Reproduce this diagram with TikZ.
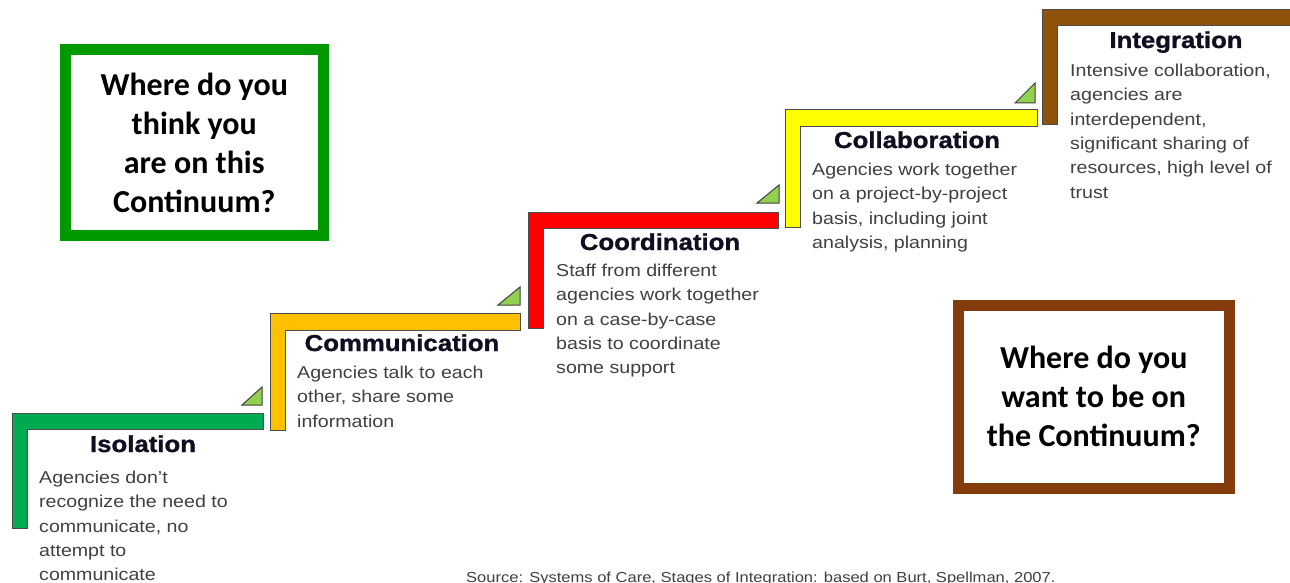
\documentclass[tikz,border=0pt]{standalone}
\usepackage{fontspec}
\setmainfont{Liberation Sans}
\newfontfamily\bodyfont[FakeStretch=1.14]{Liberation Sans}
\newfontfamily\titlefont[FakeStretch=1.12,BoldFeatures={FakeBold=1.2}]{Liberation Sans}
\newfontfamily\boxfont{Carlito}
\definecolor{stepgreen}{RGB}{0,170,80}
\definecolor{steporange}{RGB}{255,192,0}
\definecolor{stepred}{RGB}{255,0,0}
\definecolor{stepyellow}{RGB}{255,255,0}
\definecolor{stepbrown}{RGB}{142,82,10}
\definecolor{tri}{RGB}{146,208,80}
\definecolor{boxgreen}{RGB}{0,153,0}
\definecolor{boxbrown}{RGB}{132,60,12}
\definecolor{titlecol}{RGB}{15,15,35}
\definecolor{bodycol}{RGB}{64,64,64}
\tikzset{
  stepshape/.style={draw=black!70, line width=1pt},
  tristyle/.style={draw=black!75, line width=1pt, fill=tri, line join=miter},
  bodytext/.style={anchor=north west, inner sep=0pt, align=left, text=bodycol,
     font=\bodyfont\fontsize{17.2}{24.4}\selectfont},
  titletext/.style={anchor=base, inner sep=0pt, text=titlecol,
     font=\titlefont\bfseries\fontsize{23}{28}\selectfont},
  bigbox/.style={draw, line width=11pt, align=center, inner sep=0pt, text=black,
     font=\boxfont\bfseries\fontsize{32}{39}\selectfont},
}
\begin{document}
\begin{tikzpicture}[x=1pt,y=-1pt]
\useasboundingbox[fill=white] (0,0) rectangle (1290,583);

% steps
\draw[stepshape, fill=stepgreen] (12,413) -- (263,413) -- (263,429) -- (27,429) -- (27,528) -- (12,528) -- cycle;
\draw[stepshape, fill=steporange] (270,313) -- (520,313) -- (520,330) -- (285,330) -- (285,430) -- (270,430) -- cycle;
\draw[stepshape, fill=stepred] (528,212) -- (778,212) -- (778,228) -- (543,228) -- (543,328) -- (528,328) -- cycle;
\draw[stepshape, fill=stepyellow] (785,110) -- (1037,110) -- (1037,127) -- (800,127) -- (800,227) -- (785,227) -- cycle;
\draw[stepshape, fill=stepbrown] (1042,10) -- (1295,10) -- (1295,26) -- (1057,26) -- (1057,125) -- (1042,125) -- cycle;

% triangles
\draw[tristyle] (242,405) -- (262,405) -- (262,387) -- cycle;
\draw[tristyle] (498,305) -- (520,305) -- (520,287) -- cycle;
\draw[tristyle] (757,203) -- (779,203) -- (779,185) -- cycle;
\draw[tristyle] (1015,103) -- (1035,103) -- (1035,83) -- cycle;

% titles
\node[titletext] (t1) at (143,452) {Isolation};
\node[titletext] (t2) at (402,351) {Communication};
\node[titletext] (t3) at (660,250) {Coordination};
\node[titletext] (t4) at (917,148) {Collaboration};
\node[titletext] (t5) at (1176,48) {Integration};

% bodies
\node[bodytext] (b1) at (39,466) {\strut Agencies don’t\\recognize the need to\\communicate, no\\attempt to\\communicate};
\node[bodytext] (b2) at (297,361) {\strut Agencies talk to each\\other, share some\\information};
\node[bodytext] (b3) at (556,259) {\strut Staff from different\\agencies work together\\on a case-by-case\\basis to coordinate\\some support};
\node[bodytext] (b4) at (812,158) {\strut Agencies work together\\on a project-by-project\\basis, including joint\\analysis, planning};
\node[bodytext] (b5) at (1070,59) {\strut Intensive collaboration,\\agencies are\\interdependent,\\significant sharing of\\resources, high level of\\trust};

% question boxes
\node[bigbox, draw=boxgreen, minimum width=257.5pt, minimum height=185.5pt] (q1) at (194.25,142.75)
  {Where do you\\think you\\are on this\\Continuum?};
\node[bigbox, draw=boxbrown, minimum width=270.5pt, minimum height=183.5pt] (q2) at (1093.75,396.75)
  {Where do you\\want to be on\\the Continuum?};

% source
\node[anchor=base west, inner sep=0pt, text=bodycol, font=\bodyfont\fontsize{14.5}{17}\selectfont] (src) at (466,582)
  {Source: Systems of Care, Stages of Integration: based on Burt, Spellman, 2007.};
\end{tikzpicture}
\end{document}
